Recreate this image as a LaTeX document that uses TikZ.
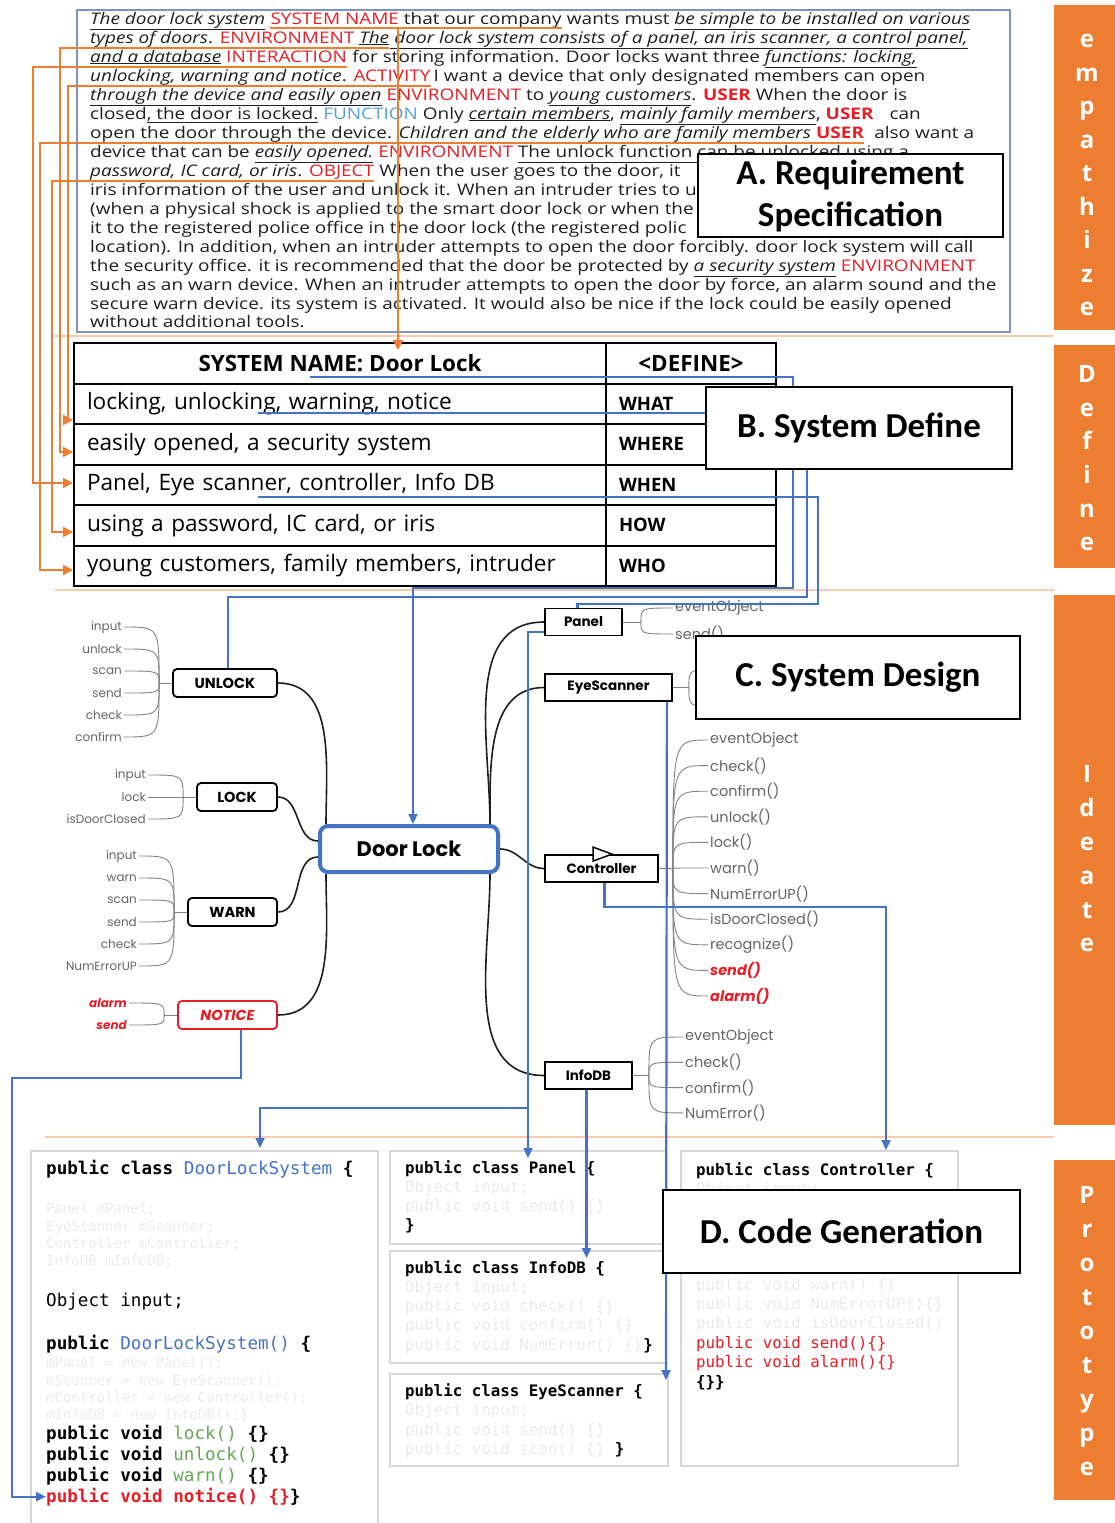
\documentclass[tikz,border=0pt]{standalone}
\usepackage{fontspec}
\setmainfont{Open Sans}
\newfontfamily\reqfont[FakeStretch=1.185]{Open Sans}
\newfontfamily\headfont{Carlito}
\newfontfamily\mapfont{Poppins}
\newfontfamily\codefont{DejaVu Sans Mono}
\usetikzlibrary{arrows.meta,positioning}
\definecolor{orangeA}{RGB}{237,125,49}
\definecolor{peachA}{RGB}{247,203,172}
\definecolor{blueA}{RGB}{68,114,196}
\definecolor{frameA}{RGB}{125,148,192}
\definecolor{redA}{RGB}{232,28,36}
\definecolor{cyanA}{RGB}{84,160,222}
\definecolor{greenA}{RGB}{98,168,84}
\definecolor{ghostA}{RGB}{234,234,234}
\definecolor{boxgrey}{RGB}{214,214,214}
\definecolor{leafgrey}{RGB}{100,100,100}
\definecolor{ink}{RGB}{30,30,30}
\newcommand\remph[1]{\underline{\textit{#1}}}
\newcommand\rtag[1]{\textcolor{redA}{#1}}
\newcommand\rtagb[1]{\textcolor{redA}{\bfseries #1}}
\newcommand\btag[1]{\textcolor{cyanA}{#1}}
\tikzset{
  phasebar/.style={fill=orangeA, draw=none, anchor=north west, minimum width=61, inner sep=0},
  phaseletter/.style={anchor=base, text=white, inner sep=0, font=\fontsize{24}{24}\selectfont\bfseries},
  sepline/.style={draw=peachA, line width=1.5pt},
  title/.style={draw=black, line width=2pt, fill=white, anchor=north west, align=center, inner sep=0,
    font=\headfont\fontsize{35}{42}\selectfont\bfseries},
  reqframe/.style={draw=frameA, line width=1.5pt, anchor=north west, inner sep=0},
  reqline/.style={anchor=base west, inner sep=0, text=ink, font=\reqfont\fontsize{16}{19}\selectfont},
  trace/.style={draw=orangeA, line width=2.2pt},
  traceto/.style={trace, -{Triangle[length=10pt,width=10pt]}},
  cellH/.style={draw=black, line width=2pt, anchor=north west, minimum height=40.5, inner sep=0,
    font=\fontsize{22.4}{22.4}\selectfont\bfseries},
  cellL/.style={draw=black, line width=2pt, anchor=north west, minimum width=532, minimum height=40.5,
    text width=506, align=left, inner xsep=13, inner ysep=0, font=\fontsize{22.6}{22.6}\selectfont},
  cellR/.style={draw=black, line width=2pt, anchor=north west, minimum width=170, minimum height=40.5,
    text width=144, align=left, inner xsep=13, inner ysep=0, font=\fontsize{18.5}{18.5}\selectfont\bfseries},
  link/.style={draw=blueA, line width=2.2pt},
  linkto/.style={link, -{Triangle[length=10pt,width=9pt]}},
  core/.style={draw=blueA, line width=4pt, rounded corners=8pt, fill=white, minimum width=178,
    minimum height=46, font=\mapfont\fontsize{21}{21}\selectfont\bfseries},
  act/.style={draw=black, line width=1.8pt, rounded corners=4pt, fill=white, minimum height=28,
    inner sep=0, font=\mapfont\fontsize{14.5}{14.5}\selectfont\bfseries},
  part/.style={draw=black, line width=1.8pt, fill=white, minimum height=27, inner sep=0,
    font=\mapfont\fontsize{13.5}{13.5}\selectfont\bfseries},
  branch/.style={draw=ink, line width=1.6pt},
  twig/.style={draw=leafgrey!80, line width=0.9pt},
  leafL/.style={anchor=east, inner sep=2pt, text=leafgrey, font=\mapfont\fontsize{12}{12}\selectfont},
  leafLred/.style={leafL, text=redA, font=\mapfont\fontsize{12}{12}\selectfont\bfseries\itshape},
  leafR/.style={anchor=west, inner sep=2pt, text=leafgrey, font=\mapfont\fontsize{14.5}{14.5}\selectfont},
  leafRred/.style={leafR, text=redA, font=\mapfont\fontsize{14.5}{14.5}\selectfont\bfseries\itshape},
  codebox/.style={draw=boxgrey, line width=1.8pt, anchor=north west, inner sep=0},
  code/.style={anchor=base west, inner sep=0, text=black, font=\codefont\fontsize{15.8}{15.8}\selectfont\bfseries},
  bigcode/.style={code, font=\codefont\fontsize{17.6}{17.6}\selectfont\bfseries},
  ghost/.style={anchor=base west, inner sep=0, text=ghostA, font=\codefont\fontsize{15.8}{15.8}\selectfont},
  smallghost/.style={ghost, font=\codefont\fontsize{14}{14}\selectfont},
  redcode/.style={ghost, text=redA},
}
\begin{document}
\begin{tikzpicture}[x=1pt,y=-1pt]
\useasboundingbox (0,0) rectangle (1115,1523);

\node[phasebar, minimum height=325] (empBar) at (1054,5) {};
\node[phasebar, minimum height=223] (defBar) at (1054,345) {};
\node[phasebar, minimum height=530] (ideBar) at (1054,595) {};
\node[phasebar, minimum height=340] (proBar) at (1054,1160) {};
\foreach \ch [count=\i] in {e,m,p,a,t,h,i,z,e}
  \node[phaseletter] (empL\i) at (1087,14+33.5*\i) {\ch};
\foreach \ch [count=\i] in {D,e,f,i,n,e}
  \node[phaseletter] (defL\i) at (1087,349+33.6*\i) {\ch};
\foreach \ch [count=\i] in {I,d,e,a,t,e}
  \node[phaseletter] (ideL\i) at (1087,749+33.8*\i) {\ch};
\foreach \ch [count=\i] in {P,r,o,t,o,t,y,p,e}
  \node[phaseletter] (proL\i) at (1087,1169+34*\i) {\ch};

\draw[sepline] (55,336) -- (1054,336);
\draw[sepline] (55,590) -- (1054,590);
\draw[sepline] (45,1137) -- (1054,1137);

\node[reqframe, minimum width=933, minimum height=322] (reqBox) at (76,9) {};
\node[reqline] (r1a) at (90,24) {\remph{The door lock system}\ \null};
\node[reqline] (r1b) at (r1a.base east) {\rtag{SYSTEM NAME} that our company};
\node[reqline] (r1c) at (r1b.base east) {\ wants must \remph{be simple to be installed on various}};
\node[reqline] (r2a) at (90,43) {\remph{types of doors}. \rtag{ENVIRONMENT} \remph{The}};
\node[reqline] (r2b) at (r2a.base east) {\remph{\ door lock system consists of a panel, an iris scanner, a control panel,}};
\node[reqline] (r3a) at (90,62) {\remph{and a database} \rtag{INTERACTION}};
\node[reqline] (r3b) at (r3a.base east) {\ for storing information. Door locks want three \remph{functions: locking,}};
\node[reqline] (r4a) at (90,81) {\remph{unlocking, warning and notice}. \rtag{ACTIVITY}};
\node[reqline] (r4b) at (r4a.base east) {\,I want a device that only designated members can open};
\node[reqline] (r5) at (90,100) {\remph{through the device and easily open} \rtag{ENVIRONMENT} to \remph{young customers}. \rtagb{USER} When the door is};
\node[reqline] (r6) at (90,119) {closed\underline{, the door is locked.} \btag{FUNCTION} Only \remph{certain members}, \remph{mainly family members}, \rtagb{USER}\quad can};
\node[reqline] (r7a) at (90,138) {open the door through the device\underline{. \textit{Children and the elderly who are family members}} \rtagb{USER}};
\node[reqline] (r7b) at (r7a.base east) {\ \ also want a};
\node[reqline] (r8) at (90,157) {device that can be \remph{easily opened.} \rtag{ENVIRONMENT} \underline{The unlock function can be unlocked using a}};
\node[reqline] (r9a) at (90,176) {\remph{password, IC card, or iris}. \rtag{OBJECT}};
\node[reqline] (r9b) at (r9a.base east) {\ When the user goes to the door, it};
\node[reqline] (r10) at (90,195) {iris information of the user and unlock it. When an intruder tries to u};
\node[reqline] (r11) at (90,214) {(when a physical shock is applied to the smart door lock or when the};
\node[reqline] (r12) at (90,233) {it to the registered police office in the door lock (the registered polic};
\node[reqline] (r13) at (90,252) {location). In addition, when an intruder attempts to open the door forcibly. door lock system will call};
\node[reqline] (r14) at (90,271) {the security office. it is recommended that the door be protected by \remph{a security system} \rtag{ENVIRONMENT}};
\node[reqline] (r15) at (90,290) {such as an warn device. When an intruder attempts to open the door by force, an alarm sound and the};
\node[reqline] (r16) at (90,309) {secure warn device. its system is activated. It would also be nice if the lock could be easily opened};
\node[reqline] (r17) at (90,327) {without additional tools.};

\node[cellH, minimum width=532] (hdName) at (73,342) {SYSTEM NAME: Door Lock};
\node[cellH, minimum width=170] (hdDefine) at (605,342) {\textless DEFINE\textgreater};
\node[cellL] (whatTxt) at (73,382.5) {locking, unlocking, warning, notice};
\node[cellR] (whatKey) at (605,382.5) {WHAT};
\node[cellL] (whereTxt) at (73,423) {easily opened, a security system};
\node[cellR] (whereKey) at (605,423) {WHERE};
\node[cellL] (whenTxt) at (73,463.5) {Panel, Eye scanner, controller, Info DB};
\node[cellR] (whenKey) at (605,463.5) {WHEN};
\node[cellL] (howTxt) at (73,504) {using a password, IC card, or iris};
\node[cellR] (howKey) at (605,504) {HOW};
\node[cellL] (whoTxt) at (73,544.5) {young customers, family members, intruder};
\node[cellR] (whoKey) at (605,544.5) {WHO};

\node[core] (door) at (409,849) {Door Lock};
\node[act, minimum width=104] (unlock) at (225,683) {UNLOCK};
\node[act, minimum width=80] (lock) at (237,797) {LOCK};
\node[act, minimum width=89] (warn) at (232.5,912) {WARN};
\node[act, minimum width=99, draw=redA, text=redA, font=\mapfont\fontsize{14.5}{14.5}\selectfont\bfseries\itshape] (notice) at (227.5,1015) {NOTICE};
\node[part, minimum width=77] (panel) at (583.5,622) {Panel};
\node[part, minimum width=127] (eye) at (608.5,687.5) {EyeScanner};
\node[part, minimum width=113] (ctrl) at (601.5,868.5) {Controller};
\node[part, minimum width=87] (infodb) at (588.5,1075.5) {InfoDB};
\draw[line width=1.5pt, fill=white] ([xshift=-8.5pt,yshift=7pt]ctrl.north) -- ++(0,14) -- ++(19,-7) -- cycle;

\draw[branch] (unlock.east) to[out=0,in=90] ([xshift=8pt]door.north west);
\draw[branch] (lock.east) to[out=0,in=180] ([yshift=8pt]door.west);
\draw[branch] (warn.east) to[out=0,in=180] ([yshift=-8pt]door.west);
\draw[branch] (notice.east) to[out=0,in=-90] ([xshift=8pt]door.south west);
\draw[branch] ([xshift=-10pt]door.north east) to[out=90,in=180] (panel.west);
\draw[branch] ([xshift=-10pt]door.north east) to[out=90,in=180] (eye.west);
\draw[branch] (door.east) to[out=0,in=180] (ctrl.west);
\draw[branch] ([xshift=-10pt]door.south east) to[out=-90,in=180] (infodb.west);

\coordinate[left=13pt of unlock] (hubU);
\foreach \lbl [count=\i] in {input,unlock,scan,send,check,confirm}{
  \node[leafL] (uLeaf\i) at (124,605+22*\i) {\lbl};
  \draw[twig] (uLeaf\i.east) .. controls (hubU |- uLeaf\i.east) .. (hubU);
}
\draw[twig] (hubU) -- (unlock.west);
\coordinate[left=13pt of lock] (hubL);
\foreach \lbl [count=\i] in {input,lock,isDoorClosed}{
  \node[leafL] (lLeaf\i) at (148,753+22*\i) {\lbl};
  \draw[twig] (lLeaf\i.east) .. controls (hubL |- lLeaf\i.east) .. (hubL);
}
\draw[twig] (hubL) -- (lock.west);
\coordinate[left=13pt of warn] (hubW);
\foreach \lbl [count=\i] in {input,warn,scan,send,check,NumErrorUP}{
  \node[leafL] (wLeaf\i) at (139,834+22*\i) {\lbl};
  \draw[twig] (wLeaf\i.east) .. controls (hubW |- wLeaf\i.east) .. (hubW);
}
\draw[twig] (hubW) -- (warn.west);
\coordinate[left=13pt of notice] (hubN);
\foreach \lbl [count=\i] in {alarm,send}{
  \node[leafLred] (nLeaf\i) at (129,981+22*\i) {\lbl};
  \draw[twig] (nLeaf\i.east) .. controls (hubN |- nLeaf\i.east) .. (hubN);
}
\draw[twig] (hubN) -- (notice.west);

\coordinate[right=18pt of panel] (hubP);
\foreach \lbl [count=\i] in {eventObject,send()}{
  \node[leafR] (pLeaf\i) at (673,582+26*\i) {\lbl};
  \draw[twig] (hubP) .. controls (hubP |- pLeaf\i.west) .. (pLeaf\i.west);
}
\draw[twig] (panel.east) -- (hubP);
\coordinate[right=16pt of eye] (hubE);
\coordinate (eyeT1) at (712,670);
\coordinate (eyeT2) at (712,706);
\draw[twig] (eye.east) -- (hubE);
\draw[twig] (hubE) .. controls (hubE |- eyeT1) .. (eyeT1);
\draw[twig] (hubE) .. controls (hubE |- eyeT2) .. (eyeT2);
\coordinate[right=14pt of ctrl] (hubC);
\foreach \lbl/\sty [count=\i] in {eventObject/leafR, check()/leafR, confirm()/leafR, unlock()/leafR, lock()/leafR,
    warn()/leafR, NumErrorUP()/leafR, isDoorClosed()/leafR, recognize()/leafR, send()/leafRred, alarm()/leafRred}{
  \node[\sty] (cLeaf\i) at (708,714.4+25.6*\i) {\lbl};
  \draw[twig] (hubC) .. controls (hubC |- cLeaf\i.west) .. (cLeaf\i.west);
}
\draw[twig] (ctrl.east) -- (hubC);
\coordinate[right=16pt of infodb] (hubI);
\foreach \lbl [count=\i] in {eventObject,check(),confirm(),NumError()}{
  \node[leafR] (iLeaf\i) at (683,1011.7+25.3*\i) {\lbl};
  \draw[twig] (hubI) .. controls (hubI |- iLeaf\i.west) .. (iLeaf\i.west);
}
\draw[twig] (infodb.east) -- (hubI);

\node[codebox, minimum width=347, minimum height=390] (dlsBox) at (30,1150) {};
\node[codebox, minimum width=276, minimum height=93] (pBox) at (389,1150) {};
\node[codebox, minimum width=276, minimum height=112] (iBox) at (389,1250) {};
\node[codebox, minimum width=278, minimum height=92] (eBox) at (389,1373) {};
\node[codebox, minimum width=277, minimum height=315] (cBox) at (680,1150) {};

\node[bigcode] (dlHead) at (46,1174) {public class \textcolor{blueA}{\mdseries DoorLockSystem} \{};
\node[smallghost] (dlG1) at (46,1213) {Panel mPanel;};
\node[smallghost] (dlG2) at (46,1231) {EyeScanner mScanner;};
\node[smallghost] (dlG3) at (46,1248) {Controller mController;};
\node[smallghost] (dlG4) at (46,1265) {InfoDB mInfoDB;};
\node[bigcode, font=\codefont\fontsize{17.6}{17.6}\selectfont] (dlInput) at (46,1306) {Object input;};
\node[bigcode] (dlCtor) at (46,1349) {public \textcolor{blueA}{\mdseries DoorLockSystem()} \{};
\node[smallghost] (dlG5) at (46,1367) {mPanel = new Panel();};
\node[smallghost] (dlG6) at (46,1385) {mScanner = new EyeScanner();};
\node[smallghost] (dlG7) at (46,1402) {mController = new Controller();};
\node[smallghost] (dlG8) at (46,1419) {mInfoDB = new InfoDB();\}};
\node[bigcode] (dlLock) at (46,1439) {public void \textcolor{greenA}{\mdseries lock()} \{\}};
\node[bigcode] (dlUnlock) at (46,1460) {public void \textcolor{greenA}{\mdseries unlock()} \{\}};
\node[bigcode] (dlWarn) at (46,1481) {public void \textcolor{greenA}{\mdseries warn()} \{\}};
\node[bigcode] (dlNotice) at (46,1502) {\textcolor{redA}{public void notice() \{\}}\}};

\node[code] (pbHead) at (405,1173) {public class Panel \{};
\node[ghost] (pbG1) at (405,1192) {Object input;};
\node[ghost] (pbG2) at (405,1211) {public void send() \{\}};
\node[code] (pbEnd) at (405,1230) {\}};
\node[code] (ibHead) at (405,1273) {public class InfoDB \{};
\node[ghost] (ibG1) at (405,1292) {Object input;};
\node[ghost] (ibG2) at (405,1311) {public void check() \{\}};
\node[ghost] (ibG3) at (405,1330) {public void confirm() \{\}};
\node[ghost] (ibG4) at (405,1350) {public void NumError() \{\}};
\node[code] (ibEnd) at (ibG4.base east) {\}};
\node[code] (ebHead) at (405,1396) {public class EyeScanner \{};
\node[ghost] (ebG1) at (405,1415) {Object input;};
\node[ghost] (ebG2) at (405,1435) {public void send() \{\}};
\node[ghost] (ebG3) at (405,1454) {public void scan() \{\}};
\node[code] (ebEnd) at (ebG3.base east) {\ \}};
\node[code] (cbHead) at (696,1175) {public class Controller \{};
\node[ghost] (cbG1) at (696,1194) {Object input;};
\node[ghost] (cbG2) at (696,1290) {public void warn() \{\}};
\node[ghost] (cbG3) at (696,1309) {public void NumErrorUP()\{\}};
\node[ghost] (cbG4) at (696,1328) {public void isDoorClosed()};
\node[redcode] (cbSend) at (696,1348) {public void send()\{\}};
\node[redcode] (cbAlarm) at (696,1367) {public void alarm()\{\}};
\node[code] (cbEnd) at (696,1387) {\{\}\}};

\draw[trace] ([yshift=-4pt]r1b.base west) -- ([yshift=-4pt]r1b.base east);
\coordinate (nameMark) at (398,28);
\draw[traceto, shorten >=-8pt] (nameMark) -- (nameMark |- hdName.north);
\coordinate (envBend) at (60,452);
\draw[traceto] ([yshift=-5pt]r2a.base east) -| (envBend) -- (envBend -| whereTxt.west);
\coordinate (intBend) at (33,483);
\draw[traceto] ([yshift=-5pt]r3a.base east) -| (intBend) -- (intBend -| whenTxt.west);
\coordinate (actBend) at (68,420);
\draw[traceto] ([yshift=-5pt]r4a.base east) -| (actBend) -- (actBend -| whatTxt.west);
\coordinate (userBend) at (40,570);
\draw[traceto] ([yshift=-5pt]r7a.base east) -| (userBend) -- (userBend -| whoTxt.west);
\coordinate (objBend) at (52,532);
\draw[traceto] ([yshift=-5pt]r9a.base east) -| (objBend) -- (objBend -| howTxt.west);

\coordinate (hdrMark) at (310,377);
\coordinate (hdrTurn) at (793,588);
\draw[linkto] (hdrMark) -| (hdrTurn) -| ([xshift=4pt]door.north);
\coordinate (whatMark) at (258,413);
\coordinate (whatTurn) at (807,597);
\draw[link] (whatMark) -| (whatTurn) -| ([xshift=3pt]unlock.north);
\coordinate (whenMark) at (258,497);
\coordinate (whenTurn) at (818,604);
\draw[link] (whenMark) -| (whenTurn) -| ([xshift=-6pt]panel.north);

\coordinate (panelDrop) at (528,1158);
\draw[linkto] ([yshift=-10pt]panel.west) -| (panelDrop);
\coordinate (splitP) at (528,1108);
\coordinate (dlsDrop) at (260,1148);
\draw[linkto] (splitP) -| (dlsDrop);
\coordinate (eyeDrop) at (666,1380);
\draw[linkto] ([xshift=-6pt]eye.south east) -- (eyeDrop);
\coordinate (ctrlBend) at (886,907);
\coordinate (ctrlDrop) at (886,1150);
\draw[linkto] ([xshift=3pt]ctrl.south) |- (ctrlBend) -- (ctrlDrop);
\coordinate (infoDrop) at (586.5,1258);
\draw[linkto] ([xshift=-2pt]infodb.south) -- (infoDrop);
\coordinate (noticeBend) at (12,1078);
\draw[linkto] ([xshift=13.5pt]notice.south) |- (noticeBend) |- (dlNotice.west);

\node[title, minimum width=305, minimum height=83] (titleA) at (697,153) {A. Requirement\\Specification};
\node[title, minimum width=306, minimum height=82] (titleB) at (705,386) {B. System Define};
\node[title, minimum width=324, minimum height=83] (titleC) at (695,635) {C. System Design};
\node[title, minimum width=357, minimum height=83] (titleD) at (662,1189) {D. Code Generation};

\end{tikzpicture}
\end{document}
